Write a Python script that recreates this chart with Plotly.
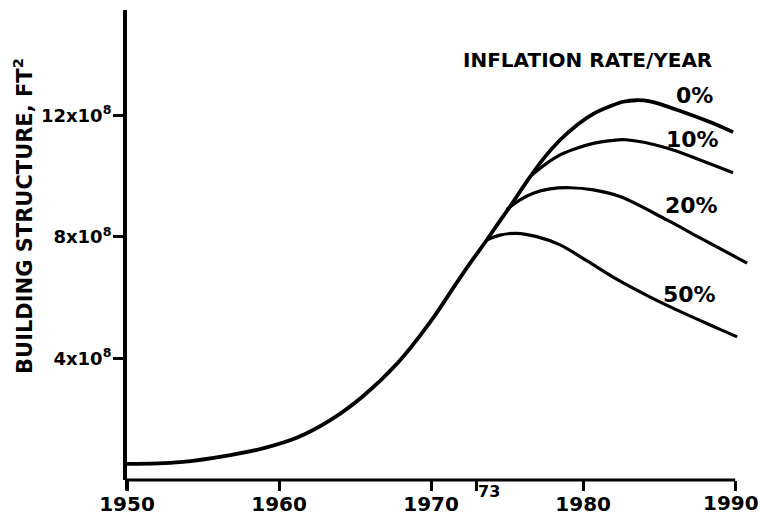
import plotly.graph_objects as go

# Building structure (units of 1e8 ft^2) versus year, by inflation rate.
# Shared growth path up to the 1973 divergence.
base_years = [1950.0, 1953.5, 1956.8, 1959.0, 1961.2, 1963.4, 1965.5,
              1967.8, 1969.9, 1971.8, 1972.8, 1973.66]
base_values = [0.53, 0.59, 0.82, 1.05, 1.40, 1.98, 2.75,
               3.85, 5.17, 6.58, 7.30, 7.90]

# 0% inflation continues from the end of the shared path
zero_years = [1974.53, 1975.19, 1976.29, 1977.38, 1978.48, 1979.58, 1980.67,
              1981.77, 1982.63, 1983.5, 1984.4, 1986.57, 1988.34, 1989.86]
zero_values = [8.53, 9.00, 9.82, 10.57, 11.19, 11.68, 12.05,
               12.30, 12.45, 12.50, 12.46, 12.11, 11.78, 11.45]

# 10% branches off the 0% path in 1976-77
ten_years = [1976.62, 1977.6, 1978.48, 1979.58, 1980.67, 1981.77, 1982.8,
             1985.51, 1987.69, 1989.86]
ten_values = [10.04, 10.42, 10.70, 10.92, 11.08, 11.17, 11.20,
              10.93, 10.53, 10.11]

# 20% branches off around 1975
twenty_years = [1974.97, 1975.85, 1976.72, 1977.82, 1979.14, 1980.67, 1982.42,
                1985.51, 1987.69, 1990.78]
twenty_values = [8.90, 9.22, 9.44, 9.58, 9.62, 9.55, 9.33,
                 8.56, 7.97, 7.14]

# 50% branches off right after 1973
fifty_years = [1973.66, 1974.53, 1975.63, 1976.95, 1978.48, 1980.23, 1982.23,
               1984.41, 1986.58, 1988.82, 1990.13]
fifty_values = [7.90, 8.06, 8.12, 8.01, 7.74, 7.22, 6.60,
                6.02, 5.50, 5.00, 4.71]

rate_labels = ["0%", "10%", "20%", "50%"]
label_x = [1987.3, 1987.2, 1987.1, 1987.0]
label_y = [12.67, 11.22, 9.05, 6.12]

x_ticks = [1950, 1960, 1970, 1973, 1980, 1990]
# 1973 and 1990 get their labels as annotations (offset / kept inside the page)
x_tick_text = ["1950", "1960", "1970", "", "1980", ""]
y_ticks = [4, 8, 12]
y_tick_text = ["4x10<sup>8</sup>", "8x10<sup>8</sup>", "12x10<sup>8</sup>"]

FONT = "DejaVu Sans"
INK = "black"

fig = go.Figure()

line_style = dict(color=INK, width=3.2, shape="spline", smoothing=1.0)

fig.add_trace(go.Scatter(x=base_years + zero_years, y=base_values + zero_values,
                         mode="lines", line=dict(line_style, width=3.8),
                         hoverinfo="skip"))
for xs, ys in [(ten_years, ten_values), (twenty_years, twenty_values),
               (fifty_years, fifty_values)]:
    fig.add_trace(go.Scatter(x=xs, y=ys, mode="lines", line=line_style,
                             hoverinfo="skip"))

annotations = [
    dict(x=1980.26, y=13.82, xref="x", yref="y", text="<b>INFLATION RATE/YEAR</b>",
         showarrow=False, xanchor="center", yanchor="middle",
         font=dict(family=FONT, size=20, color=INK)),
    dict(x=-0.165, y=0.5617, xref="paper", yref="paper",
         text="<b>BUILDING STRUCTURE, FT<sup>2</sup></b>", textangle=-90,
         xanchor="center", yanchor="middle",
         showarrow=False, font=dict(family=FONT, size=21, color=INK)),
    dict(x=1973, y=0, xref="x", yref="y", text="<b>73</b>", xanchor="left",
         yanchor="top", xshift=-1, yshift=0, showarrow=False,
         font=dict(family=FONT, size=16, color=INK)),
    dict(x=1990, y=0, xref="x", yref="y", text="<b>1990</b>", xanchor="center",
         yanchor="top", xshift=-4, yshift=-9, showarrow=False,
         font=dict(family=FONT, size=20, color=INK)),
]
for t, lx, ly in zip(rate_labels, label_x, label_y):
    annotations.append(dict(x=lx, y=ly, xref="x", yref="y", text="<b>" + t + "</b>",
                            showarrow=False,
                            font=dict(family=FONT, size=22, color=INK)))

shapes = [
    # horizontal axis line, ending at 1990
    dict(type="line", xref="x", yref="paper", x0=1950, x1=1990, y0=0, y1=0,
         line=dict(color=INK, width=3)),
    # vertical axis runs a little below the horizontal one
    dict(type="line", xref="paper", yref="paper", x0=0, x1=0, y0=0, y1=-0.022,
         line=dict(color=INK, width=4)),
]

fig.update_layout(
    width=760, height=515,
    margin=dict(l=127, r=2, t=10, b=35),
    paper_bgcolor="white", plot_bgcolor="white",
    showlegend=False,
    annotations=annotations,
    shapes=shapes,
    xaxis=dict(range=[1950, 1991.5], tickvals=x_ticks, ticktext=x_tick_text,
               ticks="outside", ticklen=10, tickwidth=3, tickcolor=INK,
               showline=False, showgrid=False, zeroline=False,
               automargin=False, ticklabelstandoff=-4,
               ticklabeloverflow="allow",
               tickfont=dict(family=FONT, size=20, color=INK, weight="bold")),
    yaxis=dict(range=[0, 15.47], tickvals=y_ticks, ticktext=y_tick_text,
               ticks="outside", ticklen=10, tickwidth=3, tickcolor=INK,
               showline=True, linewidth=4, linecolor=INK,
               showgrid=False, zeroline=False, automargin=False,
               ticklabelstandoff=-2, ticklabeloverflow="allow",
               tickfont=dict(family=FONT, size=18, color=INK, weight="bold")),
)

fig.write_html("out.html")
